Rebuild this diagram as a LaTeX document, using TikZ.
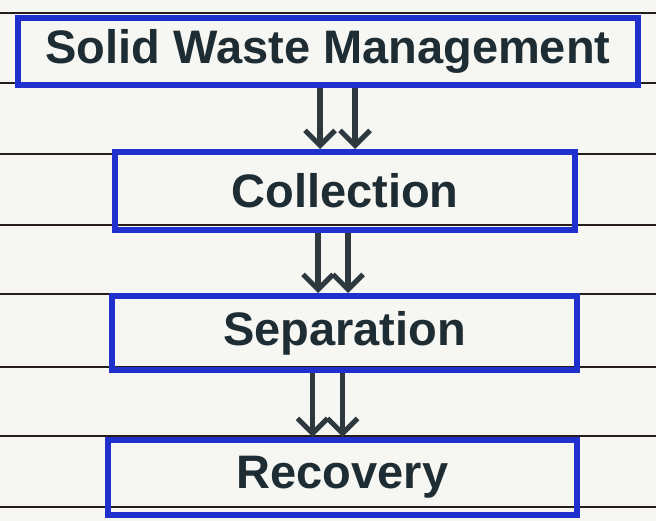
\documentclass[tikz,border=0pt]{standalone}
\usepackage{fontspec}
\setmainfont{Liberation Sans}
\usepackage{xcolor}
\usetikzlibrary{arrows.meta,positioning}

\definecolor{paper}{RGB}{246,246,242}
\definecolor{inkblue}{RGB}{32,48,205}
\definecolor{inkdark}{RGB}{30,44,52}
\definecolor{rule}{RGB}{38,30,26}

\begin{document}
\begin{tikzpicture}[x=1pt, y=-1pt,
    block/.style={rectangle, draw=inkblue, line width=6pt, text=inkdark, inner sep=0pt, font=\fontsize{47}{50}\selectfont\bfseries},
    arrow/.style={-{Straight Barb[length=15pt, width=30pt, line width=5pt]}, line width=5.5pt, draw=inkdark!85!gray}]

    % paper
    \fill[paper] (0,0) rectangle (656,521);
    \useasboundingbox (0,0) rectangle (656,521);
    \foreach \ry in {13,83,154,225,294,367,436,507}
        \draw[rule, line width=2.5pt] (0,\ry) -- (656,\ry);

    \node[block, minimum width=620pt, minimum height=67pt] (swm) at (328,51.5) {Solid Waste Management};
    \node[block, minimum width=460pt, minimum height=78pt] (col) at (345,191) {Collection};
    \node[block, minimum width=465pt, minimum height=74pt] (sep) at (344.5,333) {Separation};
    \node[block, minimum width=469pt, minimum height=75pt] (rec) at (342.5,477.5) {Recovery};

    \draw[arrow] ([xshift=-25pt]col.north |- swm.south) -- ([xshift=-25pt]col.north);
    \draw[arrow] ([xshift=10pt]col.north |- swm.south) -- ([xshift=10pt]col.north);
    \draw[arrow] ([xshift=-27pt]col.south) -- ([xshift=-27pt]col.south |- sep.north);
    \draw[arrow] ([xshift=3pt]col.south) -- ([xshift=3pt]col.south |- sep.north);
    \draw[arrow] ([xshift=-32pt]sep.south) -- ([xshift=-32pt]sep.south |- rec.north);
    \draw[arrow] ([xshift=-2pt]sep.south) -- ([xshift=-2pt]sep.south |- rec.north);
\end{tikzpicture}
\end{document}
